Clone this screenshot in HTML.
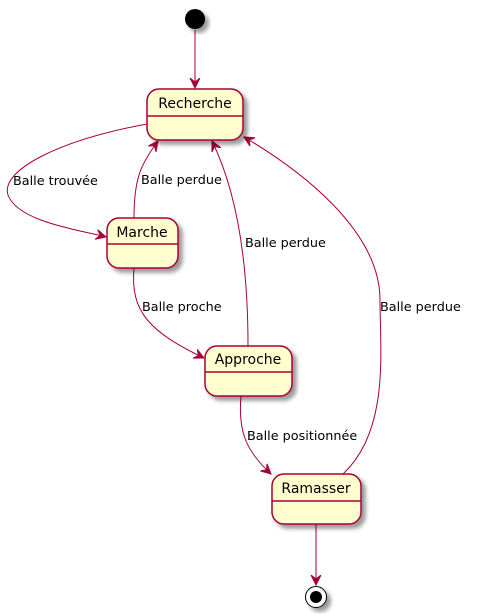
<!DOCTYPE html>
<html><head><meta charset="utf-8"><style>body{margin:0;background:#fff}svg{display:block}text{font-family:"DejaVu Sans","Liberation Sans",sans-serif}</style></head><body>
<svg width="479" height="616" viewBox="0 0 479 616" xmlns="http://www.w3.org/2000/svg">
<defs>
<marker id="a" markerWidth="12" markerHeight="12" refX="10" refY="5" orient="auto" markerUnits="userSpaceOnUse"><path d="M0,0 L10,5 L0,10 L4,5 Z" fill="#A80036" stroke="#A80036"/></marker>
<filter id="s" x="-20%" y="-20%" width="150%" height="150%"><feGaussianBlur in="SourceAlpha" stdDeviation="2"/><feOffset dx="4" dy="4"/><feComponentTransfer><feFuncA type="linear" slope="0.4"/></feComponentTransfer><feMerge><feMergeNode/><feMergeNode in="SourceGraphic"/></feMerge></filter>
</defs>
<g fill="none" stroke="#A80036" stroke-width="1">
<path d="M195,30 L195,88" marker-end="url(#a)"/>
<path d="M147,124 C60,140 0,170 8,195 C18,222 80,230 106,237" marker-end="url(#a)"/>
<path d="M134,218 C134,180 140,165 158,141" marker-end="url(#a)"/>
<path d="M134,268 C130,312 150,332 204,358" marker-end="url(#a)"/>
<path d="M248,346 C248,260 236,190 212,141" marker-end="url(#a)"/>
<path d="M241,396 C238,430 245,450 271,474" marker-end="url(#a)"/>
<path d="M343,474 C390,430 380,350 380,300 C380,230 300,170 244,137" marker-end="url(#a)"/>
<path d="M316,524 L316,585" marker-end="url(#a)"/>
</g>
<circle cx="195" cy="19" r="10" fill="#000" filter="url(#s)"/>
<g fill="#FEFECE" stroke="#A80036" stroke-width="1.5" filter="url(#s)">
<rect x="147" y="89" width="96" height="51" rx="12"/>
<rect x="107" y="218" width="71" height="50" rx="12"/>
<rect x="205" y="346" width="87" height="50" rx="12"/>
<rect x="272" y="474" width="89" height="50" rx="12"/>
</g>
<g stroke="#A80036" stroke-width="1.5">
<line x1="147" y1="116" x2="243" y2="116"/>
<line x1="107" y1="244" x2="178" y2="244"/>
<line x1="205" y1="372" x2="292" y2="372"/>
<line x1="272" y1="501" x2="361" y2="501"/>
</g>
<g font-size="14" fill="#000" text-anchor="middle">
<text x="195" y="108">Recherche</text>
<text x="142" y="237">Marche</text>
<text x="248" y="364">Approche</text>
<text x="316" y="493">Ramasser</text>
</g>
<g font-size="12.8" fill="#000">
<text x="13" y="185">Balle trouvée</text>
<text x="141" y="184">Balle perdue</text>
<text x="142" y="311">Balle proche</text>
<text x="245" y="247">Balle perdue</text>
<text x="247" y="440">Balle positionnée</text>
<text x="380" y="311">Balle perdue</text>
</g>
<circle cx="316" cy="597" r="10.5" fill="#fff" stroke="#000" stroke-width="1" filter="url(#s)"/>
<circle cx="316" cy="597" r="6" fill="#000"/>
</svg>
</body></html>
